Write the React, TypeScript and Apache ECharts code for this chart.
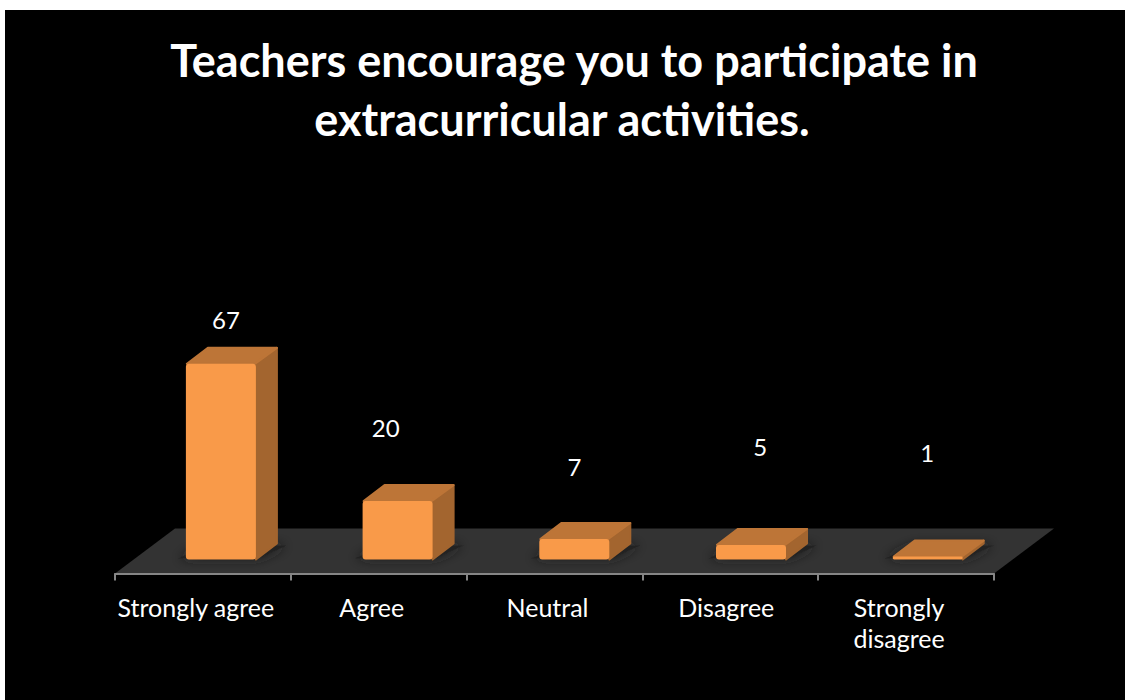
import React, { useEffect, useRef } from "react";
import * as echarts from "echarts";

const titleLines = ["Teachers encourage you to participate in", "extracurricular activities."];
const categories = ["Strongly agree", "Agree", "Neutral", "Disagree", "Strongly\ndisagree"];
const values = [67, 20, 7, 5, 1];
// Hand-placed data labels in the reference: lift above the value's bar top (px) and x shift from band centre.
const labelLift = [61, 91, 90, 115, 121];
const labelShift = [23, 7, 20, 30, 21];

const FONT = "Lato, Carlito, 'Open Sans', sans-serif";
const BAR_W = 70;
const BAR_SHIFT = 18;
const BAR_DRIFT = 0.9;
const DX = 21;
const DY = -16;
const FLOOR_DX = 60;
const FLOOR_DY = -45;
const AXIS_OFFSET = 14;

function renderFloor(params: any) {
  const c = params.coordSys;
  const y = c.y + c.height + AXIS_OFFSET;
  return {
    type: "polygon",
    shape: {
      points: [
        [c.x, y],
        [c.x + c.width, y],
        [c.x + c.width + FLOOR_DX, y + FLOOR_DY],
        [c.x + FLOOR_DX, y + FLOOR_DY],
      ],
    },
    style: { fill: "#333333" },
  };
}

function renderBar(params: any, api: any) {
  const i = api.value(0);
  const v = api.value(1);
  const base = api.coord([i, 0]);
  const top = api.coord([i, v]);
  const x0 = base[0] + BAR_SHIFT + i * BAR_DRIFT - BAR_W / 2;
  const x1 = x0 + BAR_W;
  const yb = base[1];
  const yt = top[1];
  return {
    type: "group",
    children: [
      {
        type: "polygon",
        shape: {
          points: [
            [x0 - 8, yb - 1],
            [x1 + 2, yb - 1],
            [x1 + DX + 10, yb + DY + 2],
            [x0 + DX, yb + DY + 2],
          ],
        },
        style: { fill: "#232323", shadowBlur: 12, shadowColor: "#1c1c1c" },
      },
      {
        type: "polygon",
        shape: { points: [[x1, yb], [x1 + DX, yb + DY], [x1 + DX, yt + DY], [x1, yt]] },
        style: { fill: "#a3652f", stroke: "#a3652f", lineWidth: 2, lineJoin: "round" },
      },
      {
        type: "polygon",
        shape: { points: [[x0 + 1, yt], [x1 - 1, yt], [x1 + DX, yt + DY], [x0 + DX + 1, yt + DY]] },
        style: { fill: "#bd7537", stroke: "#bd7537", lineWidth: 2, lineJoin: "round" },
      },
      {
        type: "rect",
        shape: { x: x0, y: yt, width: BAR_W, height: Math.max(yb - yt, 2), r: 3 },
        style: { fill: "#f99a49" },
      },
      {
        type: "text",
        style: {
          text: String(v),
          x: base[0] + labelShift[i],
          y: yt + DY - labelLift[i] + 33,
          align: "center",
          verticalAlign: "middle",
          fill: "#ffffff",
          font: `24px ${FONT}`,
        },
      },
    ],
  };
}

const titleStyle = { color: "#ffffff", fontFamily: FONT, fontWeight: "bold", fontSize: 45, lineHeight: 59 };

export default function App() {
  const ref = useRef<HTMLDivElement>(null);
  useEffect(() => {
    document.body.style.margin = "0";
    document.body.style.background = "#ffffff";
    const chart = echarts.init(ref.current!, null, { renderer: "svg" });
    chart.setOption({
      animation: false,
      backgroundColor: "#ffffff",
      graphic: [
        { type: "rect", z: -10, silent: true, shape: { x: 5, y: 10, width: 1120, height: 690 }, style: { fill: "#000000" } },
      ],
      title: [
        { text: titleLines[0], left: 569, top: 25, textAlign: "center", textStyle: titleStyle },
        { text: titleLines[1], left: 557, top: 84, textAlign: "center", textStyle: titleStyle },
      ],
      grid: { left: 115, width: 879, top: 267.5, height: 292 },
      xAxis: {
        type: "category",
        z: 5,
        data: categories.map((c, i) =>
          i === 3 ? { value: c, textStyle: { padding: [0, 8, 0, 0] } } : c
        ),
        offset: AXIS_OFFSET,
        axisLine: { show: true, onZero: false, lineStyle: { color: "#868686", width: 2 } },
        axisTick: { show: true, length: 7, alignWithLabel: false, lineStyle: { color: "#868686", width: 2 } },
        axisLabel: {
          color: "#ffffff",
          fontFamily: FONT,
          fontSize: 25,
          lineHeight: 31,
          margin: 18,
          interval: 0,
          padding: [0, 14, 0, 0],
        },
      },
      yAxis: { type: "value", min: 0, max: 100, show: false, splitLine: { show: false } },
      series: [
        {
          type: "custom",
          name: "Floor",
          z: 1,
          silent: true,
          data: [[0, 0]],
          encode: { x: 0, y: 1 },
          renderItem: renderFloor,
        },
        {
          type: "custom",
          name: "Responses",
          z: 2,
          data: values.map((v, i) => [i, v]),
          encode: { x: 0, y: 1 },
          renderItem: renderBar,
        },
      ],
    });
    return () => chart.dispose();
  }, []);
  return <div ref={ref} style={{ width: 1125, height: 700 }} />;
}
